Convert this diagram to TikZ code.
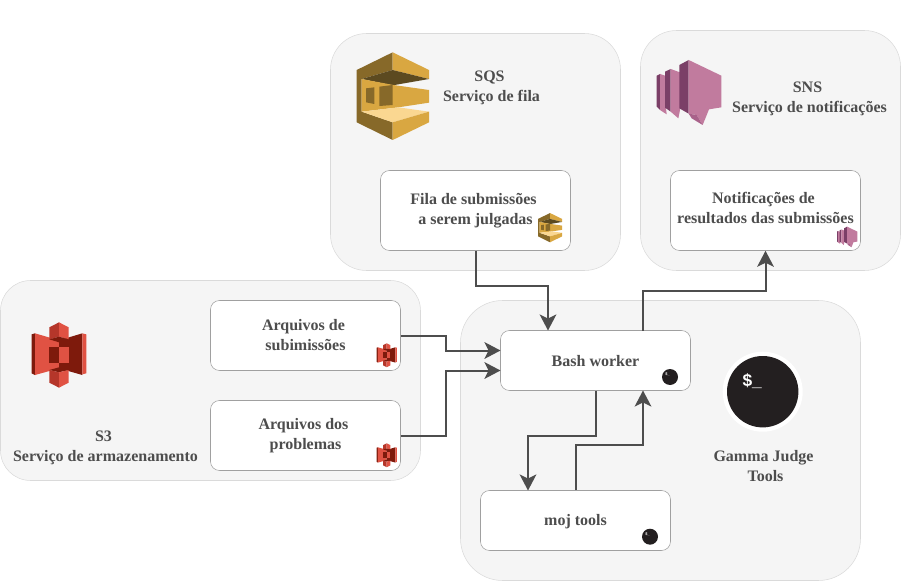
\documentclass[tikz,border=0pt]{standalone}
\usepackage{fontspec}
\setmainfont{Liberation Serif}
\setsansfont{Liberation Sans}
\usetikzlibrary{arrows.meta}
\definecolor{panelfill}{HTML}{F5F5F5}
\definecolor{paneledge}{HTML}{DADADA}
\definecolor{boxedge}{HTML}{A0A0A0}
\definecolor{inktext}{HTML}{4D4D4D}
\definecolor{sqslight}{HTML}{D9A741}
\definecolor{sqsdark}{HTML}{876929}
\definecolor{sqsdeep}{HTML}{5C4A20}
\definecolor{sqspale}{HTML}{FAD791}
\definecolor{snslight}{HTML}{C17B9E}
\definecolor{snsmid}{HTML}{A9628A}
\definecolor{snsdark}{HTML}{7B3F67}
\definecolor{s3light}{HTML}{E05243}
\definecolor{s3mid}{HTML}{B5362A}
\definecolor{s3dark}{HTML}{7E1A0C}
\definecolor{termblack}{HTML}{231F20}
\newcommand{\pxu}{0.75pt}
\newcommand{\tsp}{\kern3pt}
\tikzset{
    panel/.style = {draw=paneledge, fill=panelfill, minimum width=#1*\pxu},
    whitebox/.style = {draw=boxedge, fill=white, rounded corners=9pt*0.75, minimum width=190*\pxu, align=center, font=\fontsize{12}{15}\bfseries\selectfont, text=inktext, execute at begin node={\rule{0pt}{9.7pt}}},
    titletext/.style = {align=center, font=\fontsize{12}{15}\bfseries\selectfont, text=inktext},
    link/.style = {-{Stealth[length=12pt,width=12.5pt,inset=3pt]}, line width=1.5pt, inktext},
    sqsicon/.pic = {
      \fill[sqsdark] (20,75) -- (128,22) -- (128,75) -- (35,102) -- (35,200) -- (128,232) -- (128,285) -- (20,232) -- cycle;
      \fill[sqslight] (128,22) -- (237,75) -- (237,102) -- (128,75) -- cycle;
      \fill[sqsdeep] (35,102) -- (128,75) -- (237,102) -- (128,121) -- cycle;
      \fill[sqslight] (35,102) -- (130,120) -- (237,135) -- (237,173) -- (145,187) -- (35,200) -- cycle;
      \fill[sqsdark] (48,130) -- (73,127) -- (73,177) -- (48,172) -- cycle;
      \fill[sqsdark] (88,125) -- (128,120) -- (128,180) -- (88,183) -- cycle;
      \fill[sqspale] (35,200) -- (145,187) -- (237,200) -- (128,232) -- cycle;
      \fill[sqslight] (128,232) -- (237,200) -- (237,232) -- (128,285) -- cycle;
    },
    snsicon/.pic = {
      \fill[snsdark] (20,62) -- (30,57) -- (30,165) -- (20,155) -- cycle;
      \fill[snslight] (30,57) -- (48,63) -- (48,160) -- (50,178) -- (30,165) -- cycle;
      \fill[snsdark] (45,50) -- (62,42) -- (62,170) -- (45,158) -- cycle;
      \fill[snslight] (62,42) -- (90,52) -- (90,165) -- (85,190) -- (62,170) -- cycle;
      \fill[snsdark] (88,30) -- (116,15) -- (116,176) -- (88,160) -- cycle;
      \fill[snslight] (116,15) -- (214,62) -- (214,157) -- (177,163) -- (158,210) -- (140,180) -- (116,176) -- cycle;
      \fill[snsmid] (116,176) -- (140,180) -- (158,210) -- (125,190) -- cycle;
    },
    sthreeicon/.pic = {
      \fill[s3dark] (20,58) -- (30,55) -- (30,180) -- (20,175) -- cycle;
      \fill[s3light] (30,55) -- (102,76) -- (102,160) -- (30,180) -- cycle;
      \fill[s3dark] (102,76) -- (172,55) -- (172,180) -- (102,160) -- cycle;
      \fill[s3light] (172,55) -- (184,58) -- (184,175) -- (172,178) -- cycle;
      \fill[s3mid] (73,37) -- (102,22) -- (102,65) -- (73,73) -- cycle;
      \fill[s3light] (102,22) -- (131,37) -- (131,73) -- (102,65) -- cycle;
      \fill[s3dark] (73,73) -- (102,65) -- (131,73) -- (102,82) -- cycle;
      \fill[s3dark] (73,97) -- (102,97) -- (102,143) -- (73,143) -- cycle;
      \fill[s3light] (102,97) -- (131,97) -- (131,143) -- (102,143) -- cycle;
      \fill[s3dark] (73,165) -- (102,157) -- (131,165) -- (102,172) -- cycle;
      \fill[s3mid] (73,165) -- (102,172) -- (102,218) -- (73,203) -- cycle;
      \fill[s3light] (102,172) -- (131,165) -- (131,203) -- (102,218) -- cycle;
    },
    termicon/.pic = {
      \fill[white] (0,0) circle (40);
      \fill[termblack] (0,0) circle (35.7);
      \node (-prompt) at (-10.5,-10.5) [transform shape, text=white, inner sep=0pt, font=\fontsize{13}{14}\sffamily\bfseries\selectfont] {\$\_};
    }
}

\begin{document}
\begin{tikzpicture}[x=\pxu, y=-\pxu]
  \useasboundingbox (0,0) rectangle (902,581);
  % panels
  \node (sqspanel) at (475.5,152) [panel=290, minimum height=237*\pxu, rounded corners=27pt] {};
  \node (snspanel) at (770.5,150.5) [panel=260, minimum height=240*\pxu, rounded corners=27pt] {};
  \node (sthreepanel) at (210.5,380.5) [panel=420, minimum height=200*\pxu, rounded corners=22.5pt] {};
  \node (gammapanel) at (660.5,440.5) [panel=400, minimum height=280*\pxu, rounded corners=31.5pt] {};
  % boxes
  \node (fila) at (475.5,210.5) [whitebox, minimum height=80*\pxu] {Fila de submissões\tsp\\a serem julgadas};
  \node (notif) at (765.5,210.5) [whitebox, minimum height=80*\pxu, label={[titletext, name=notiftext, yshift=1.9pt]center:Notificações de\tsp\\resultados das submissões}] {};
  \node (arqsub) at (305.5,335.5) [whitebox, minimum height=70*\pxu] {Arquivos de\tsp\\subimissões};
  \node (arqprob) at (305.5,435.5) [whitebox, minimum height=70*\pxu] {Arquivos dos\tsp\\problemas};
  \node (bash) at (595.5,360.5) [whitebox, minimum height=60*\pxu] {Bash worker};
  \node (moj) at (575.5,520.5) [whitebox, minimum height=60*\pxu] {moj tools};
  % titles
  \node (sqstitle) at (491.5,88) [titletext] {SQS\tsp\\Serviço de fila};
  \node (snstitle) at (809.5,99) [titletext] {SNS\tsp\\Serviço de notificações};
  \node (sthreetitle) at (105.5,448) [titletext] {S3\tsp\\Serviço de armazenamento};
  \node (gammatitle) at (765.5,466.5) [titletext] {Gamma Judge\tsp\\Tools};
  % icons
  \pic (sqsbig) [scale=1/3] at (350,45) {sqsicon};
  \pic (sqssmall) [scale=1/9] at (535.8,210.6) {sqsicon};
  \pic (snsbig) [scale=1/3] at (650,55) {snsicon};
  \pic (snssmall) [scale=0.105] at (834.9,225.1) {snsicon};
  \pic (sthreebig) [scale=1/3] at (25,315) {sthreeicon};
  \pic (sthreesmalla) [scale=0.122] at (374.3,340.6) {sthreeicon};
  \pic (sthreesmallb) [scale=0.122] at (374.3,440.6) {sthreeicon};
  \pic (termbig) at (762.7,391.7) {termicon};
  \pic (termbash) [scale=0.224] at (670,377) {termicon};
  \pic (termmoj) [scale=0.224] at (650,536.7) {termicon};
  % connectors
  \coordinate (bashin) at (548,330.5);
  \coordinate (bashout) at (643,330.5);
  \coordinate (bashback) at (643,390.5);
  \coordinate (bashwa) at (500.5,350.5);
  \coordinate (bashwb) at (500.5,370.5);
  \coordinate (mojin) at (528,490.5);
  \draw[link] (fila.south) -- ++(0,35) -| (bashin);
  \draw[link] (bashout) -- ++(0,-39.5) -| (notif.south);
  \draw[link] (arqsub.east) -- ++(45,0) |- (bashwa);
  \draw[link] (arqprob.east) -- ++(45,0) |- (bashwb);
  \draw[link] (bash.south) -- ++(0,45) -| (mojin);
  \draw[link] (moj.north) -- ++(0,-45) -| (bashback);
\end{tikzpicture}
\end{document}
